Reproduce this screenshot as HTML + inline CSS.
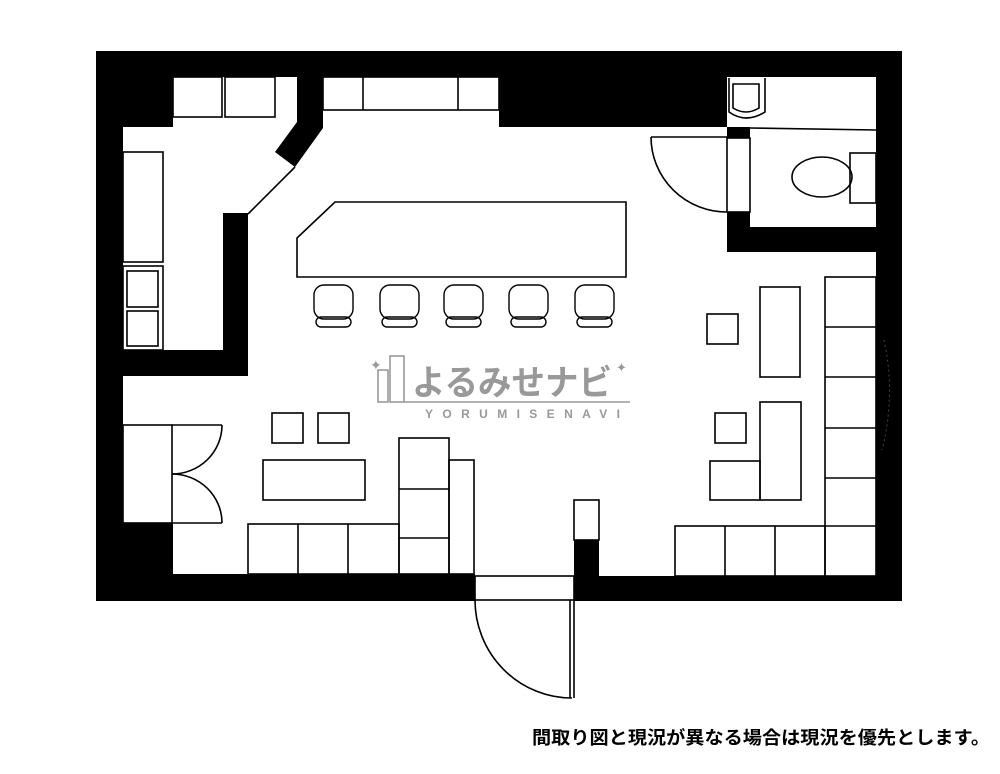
<!DOCTYPE html>
<html><head><meta charset="utf-8">
<style>
html,body{margin:0;padding:0;background:#fff;}
svg{display:block;}
</style></head>
<body>
<svg width="1000" height="774" viewBox="0 0 1000 774" xmlns="http://www.w3.org/2000/svg">
<rect width="1000" height="774" fill="#fff"/>
<g fill="#000">
  <rect x="96" y="51" width="806" height="26"/>
  <rect x="96" y="51" width="27" height="550"/>
  <rect x="876" y="51" width="26" height="550"/>
  <rect x="96" y="574" width="379" height="27"/>
  <rect x="574" y="576" width="328" height="25"/>
  <rect x="96" y="51" width="77" height="76"/>
  <polygon points="297,51 323,51 323,128 295,167 275,152 297,122"/>
  <rect x="223" y="213" width="25" height="163"/>
  <rect x="96" y="350" width="152" height="26"/>
  <rect x="499" y="51" width="228" height="76"/>
  <rect x="727" y="127" width="23" height="11"/>
  <rect x="727" y="212" width="23" height="40"/>
  <rect x="727" y="227" width="175" height="25"/>
  <rect x="96" y="523" width="77" height="78"/>
  <rect x="574" y="540" width="25" height="61"/>
</g>
<g fill="none" stroke="#000" stroke-width="1.6">
  <line x1="295" y1="167" x2="248" y2="214"/>
  <rect x="173" y="77" width="49" height="40"/>
  <rect x="225" y="77" width="50" height="40"/>
  <rect x="123" y="152" width="40" height="110"/>
  <rect x="123" y="266" width="40" height="84"/>
  <rect x="127" y="271" width="31" height="36"/>
  <rect x="127" y="311" width="31" height="35"/>
  <rect x="323" y="77" width="176" height="33"/>
  <line x1="363" y1="77" x2="363" y2="110"/>
  <line x1="458" y1="77" x2="458" y2="110"/>
  <polygon points="335,202 626,202 626,277 297,277 297,238"/>
  <path d="M733,84 H759 V108 Q746,116 733,108 Z"/>
  <path d="M729,78 V112 Q746,124 765,112 V78"/>
  <line x1="750" y1="128" x2="876" y2="130"/>
  <rect x="727" y="138" width="23" height="74"/>
  <rect x="850" y="153" width="26" height="50"/>
  <ellipse cx="822" cy="177" rx="30" ry="20"/>
  <line x1="651" y1="137" x2="727" y2="137"/>
  <path d="M651,137 A76,75 0 0 0 727,212"/>
  <rect x="760" y="287" width="40" height="90"/>
  <rect x="707" y="314" width="31" height="30"/>
  <rect x="715" y="413" width="31" height="30"/>
  <rect x="760" y="402" width="41" height="98"/>
  <rect x="710" y="461" width="50" height="39"/>
  <rect x="825" y="277" width="51" height="299"/>
  <line x1="825" y1="327" x2="876" y2="327"/>
  <line x1="825" y1="377" x2="876" y2="377"/>
  <line x1="825" y1="428" x2="876" y2="428"/>
  <line x1="825" y1="478" x2="876" y2="478"/>
  <line x1="825" y1="526" x2="876" y2="526"/>
  <rect x="675" y="526" width="150" height="50"/>
  <line x1="725" y1="526" x2="725" y2="576"/>
  <line x1="775" y1="526" x2="775" y2="576"/>
  <rect x="123" y="425" width="49" height="98"/>
  <line x1="172" y1="425" x2="222" y2="425"/>
  <path d="M222,425 A50,49 0 0 1 172,474"/>
  <path d="M172,474 A50,49 0 0 1 222,523"/>
  <line x1="222" y1="523" x2="172" y2="523"/>
  <rect x="272" y="413" width="31" height="30"/>
  <rect x="318" y="413" width="31" height="30"/>
  <rect x="263" y="460" width="102" height="40"/>
  <rect x="248" y="524" width="151" height="50"/>
  <line x1="298" y1="524" x2="298" y2="574"/>
  <line x1="348" y1="524" x2="348" y2="574"/>
  <rect x="399" y="438" width="50" height="136"/>
  <line x1="399" y1="489" x2="449" y2="489"/>
  <line x1="399" y1="538" x2="449" y2="538"/>
  <rect x="449" y="460" width="25" height="114"/>
  <rect x="574" y="500" width="25" height="40"/>
  <rect x="475" y="576" width="99" height="24"/>
  <line x1="570" y1="600" x2="570" y2="698"/>
  <line x1="574" y1="600" x2="574" y2="698"/>
  <path d="M475,600 A97,98 0 0 0 572,698"/>
</g>
<g fill="none" stroke="#000" stroke-width="1.4">
  <g transform="translate(314,0)"><rect x="0" y="285" width="39" height="34" rx="10"/><rect x="2" y="317" width="35" height="10" rx="5"/></g>
  <g transform="translate(380,0)"><rect x="0" y="285" width="39" height="34" rx="10"/><rect x="2" y="317" width="35" height="10" rx="5"/></g>
  <g transform="translate(444,0)"><rect x="0" y="285" width="39" height="34" rx="10"/><rect x="2" y="317" width="35" height="10" rx="5"/></g>
  <g transform="translate(509,0)"><rect x="0" y="285" width="39" height="34" rx="10"/><rect x="2" y="317" width="35" height="10" rx="5"/></g>
  <g transform="translate(575,0)"><rect x="0" y="285" width="39" height="34" rx="10"/><rect x="2" y="317" width="35" height="10" rx="5"/></g>
</g>
<path d="M884,340 Q896,395 882,450" fill="none" stroke="#444" stroke-width="1" stroke-dasharray="2,3"/>
<g fill="none" stroke="#999" stroke-width="1.6">
  <rect x="378" y="370" width="10" height="32"/>
  <rect x="390" y="356" width="14" height="46"/>
  <line x1="404" y1="402" x2="630" y2="402"/>
</g>
<text x="370" y="370" font-family="DejaVu Sans, sans-serif" font-size="14" fill="#999">✦</text>
<text x="616" y="372" font-family="DejaVu Sans, sans-serif" font-size="13" fill="#999">✦</text>
<text x="412" y="395" font-family="'Liberation Sans','Noto Sans CJK JP',sans-serif" font-size="35" font-weight="bold" fill="#999" textLength="200" lengthAdjust="spacingAndGlyphs">よるみせナビ</text>
<text x="425" y="418" font-family="'Liberation Sans',sans-serif" font-size="12" font-weight="bold" fill="#999" textLength="195" lengthAdjust="spacing">YORUMISENAVI</text>
<text x="532" y="744" font-family="'Liberation Sans','Noto Sans CJK JP',sans-serif" font-size="18" font-weight="bold" fill="#000" textLength="458" lengthAdjust="spacingAndGlyphs">間取り図と現況が異なる場合は現況を優先とします。</text>
</svg>
</body></html>
